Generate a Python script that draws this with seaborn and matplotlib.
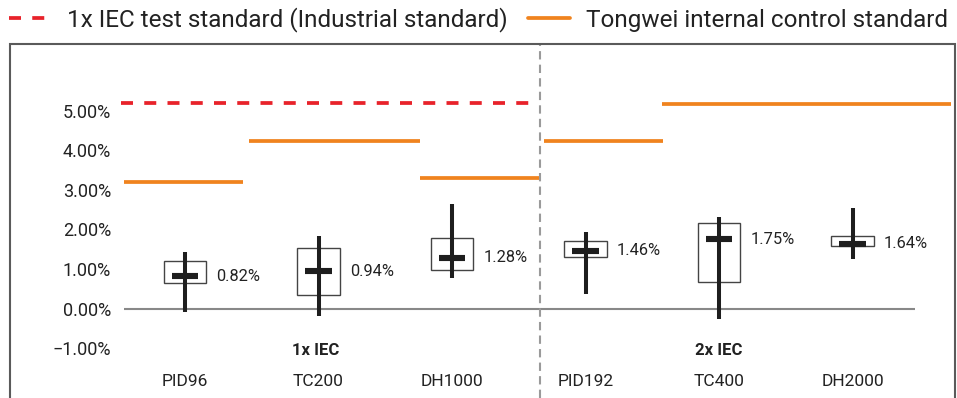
import matplotlib
matplotlib.use("Agg")
import matplotlib.pyplot as plt
from matplotlib.lines import Line2D
from matplotlib.patches import Rectangle
import numpy as np
import pandas as pd
import seaborn as sns

# PID / TC / DH degradation results (%)
tests = ["PID96", "TC200", "DH1000", "PID192", "TC400", "DH2000"]
p_min = [-0.10, -0.19, 0.77, 0.36, -0.27, 1.25]
p_q1 = [0.65, 0.34, 0.98, 1.31, 0.67, 1.57]
p_median = [0.82, 0.94, 1.28, 1.46, 1.75, 1.64]
p_q3 = [1.20, 1.53, 1.79, 1.70, 2.15, 1.84]
p_max = [1.42, 1.82, 2.63, 1.94, 2.31, 2.55]

# standard limits (%)
iec_limit = 5.20
internal_limits = [3.20, 4.24, 3.30, 4.24, 5.17]
internal_spans = [(-0.457, 0.432), (0.48, 1.758), (1.76, 2.65), (2.69, 3.58), (3.57, 5.74)]

group_labels = ["1x IEC", "2x IEC"]
yticks = [-1, 0, 1, 2, 3, 4, 5]
ytick_labels = ["\u22121.00%", "0.00%", "1.00%", "2.00%", "3.00%", "4.00%", "5.00%"]
legend_labels = ["1x IEC test standard (Industrial standard)", "Tongwei internal control standard"]

sns.set_theme(style="white")
plt.rcParams["font.family"] = ["Roboto", "DejaVu Sans"]

W, H = 957, 398
fig = plt.figure(figsize=(W / 100, H / 100), dpi=100)

# axes placed in pixel terms
ax_left, ax_right, ax_top, ax_bottom = 118, 957, 42, 368
ax = fig.add_axes([ax_left / W, 1 - ax_bottom / H, (ax_right - ax_left) / W, (ax_bottom - ax_top) / H])

df = pd.DataFrame({
    "test": np.repeat(tests, 5),
    "value": np.ravel(np.column_stack([p_min, p_q1, p_median, p_q3, p_max])),
})

INK = "#1e1e1e"
TEXT = "#222222"
sns.boxplot(
    data=df, x="test", y="value", order=tests, ax=ax,
    width=0.32, whis=(0, 100), showcaps=False, color="white",
    linecolor="#444444", linewidth=1.0,
    whiskerprops=dict(color=INK, linewidth=2.9, solid_capstyle="butt"),
    medianprops=dict(linewidth=0),
    showfliers=False,
)
pos = np.arange(len(tests))
# whisker continues through the box
ax.vlines(pos, p_q1, p_q3, color=INK, linewidth=2.9, zorder=5)
# median marker
ax.hlines(p_median, pos - 0.10, pos + 0.10, color=INK, linewidth=4.4, zorder=6)

for x, m in zip(pos, p_median):
    ax.text(x + 0.235, m, f"{m:.2f}%", ha="left", va="center", fontsize=11.8, color=TEXT)

# zero baseline
ax.hlines(0, -0.457, 5.47, color="#888888", linewidth=1.5, zorder=1)

ORANGE = "#F0831E"
RED = "#E8222A"
DASH = (0, (3.2, 3.0))
ax.hlines(iec_limit, -0.48, 2.64, color=RED, linewidth=2.7, linestyles=DASH, zorder=2, clip_on=False)
for (x0, x1), v in zip(internal_spans, internal_limits):
    ax.hlines(v, x0, x1, color=ORANGE, linewidth=2.7, zorder=2, clip_on=False)

# separator between 1x and 2x IEC groups
ax.axvline(2.66, ymin=-30 / (ax_bottom - ax_top), ymax=1 - 2 / (ax_bottom - ax_top),
           color="#9a9a9a", linewidth=1.5, linestyle=(0, (4, 2.5)), clip_on=False, zorder=1)

ax.text(0.98, -1.06, group_labels[0], ha="center", va="center", fontsize=12, fontweight="bold", color=TEXT)
ax.text(4.0, -1.06, group_labels[1], ha="center", va="center", fontsize=12, fontweight="bold", color=TEXT)

ax.set_xlim((ax_left - 185) / 133.5, (ax_right - 185) / 133.5)
y0, ppu = 308.5, 39.6
ax.set_ylim((y0 - ax_bottom) / ppu, (y0 - ax_top) / ppu)
ax.set_yticks(yticks)
ax.set_yticklabels(ytick_labels)
ax.set_xticks(pos)
ax.set_xticklabels(tests)
ax.tick_params(axis="y", length=0, pad=5, labelsize=13, labelcolor=TEXT)
ax.tick_params(axis="x", length=0, pad=4, labelsize=12.5, labelcolor=TEXT)
ax.set_xlabel("")
ax.set_ylabel("")
for s in ax.spines.values():
    s.set_visible(False)
ax.patch.set_alpha(0)

# outer frame, running off the bottom edge
fig.patches.append(Rectangle((9.5 / W, -0.2), (955 - 9.5) / W, 0.2 + 1 - 44 / H,
                             transform=fig.transFigure, fill=False,
                             edgecolor="#5a5a5a", linewidth=1.5, zorder=0))

red_handle = Line2D([], [], color=RED, linewidth=2.7)
red_handle.set_dashes([3.2, 3.0])
handles = [red_handle, Line2D([], [], color=ORANGE, linewidth=2.7)]
fig.legend(handles, legend_labels,
           loc="center", bbox_to_anchor=(0.5, 1 - 20 / H), ncol=2, frameon=False,
           fontsize=17.5, handlelength=1.73, handletextpad=0.66, columnspacing=0.82,
           labelcolor=TEXT, borderaxespad=0, borderpad=0)

fig.savefig("out.png", dpi=100)
